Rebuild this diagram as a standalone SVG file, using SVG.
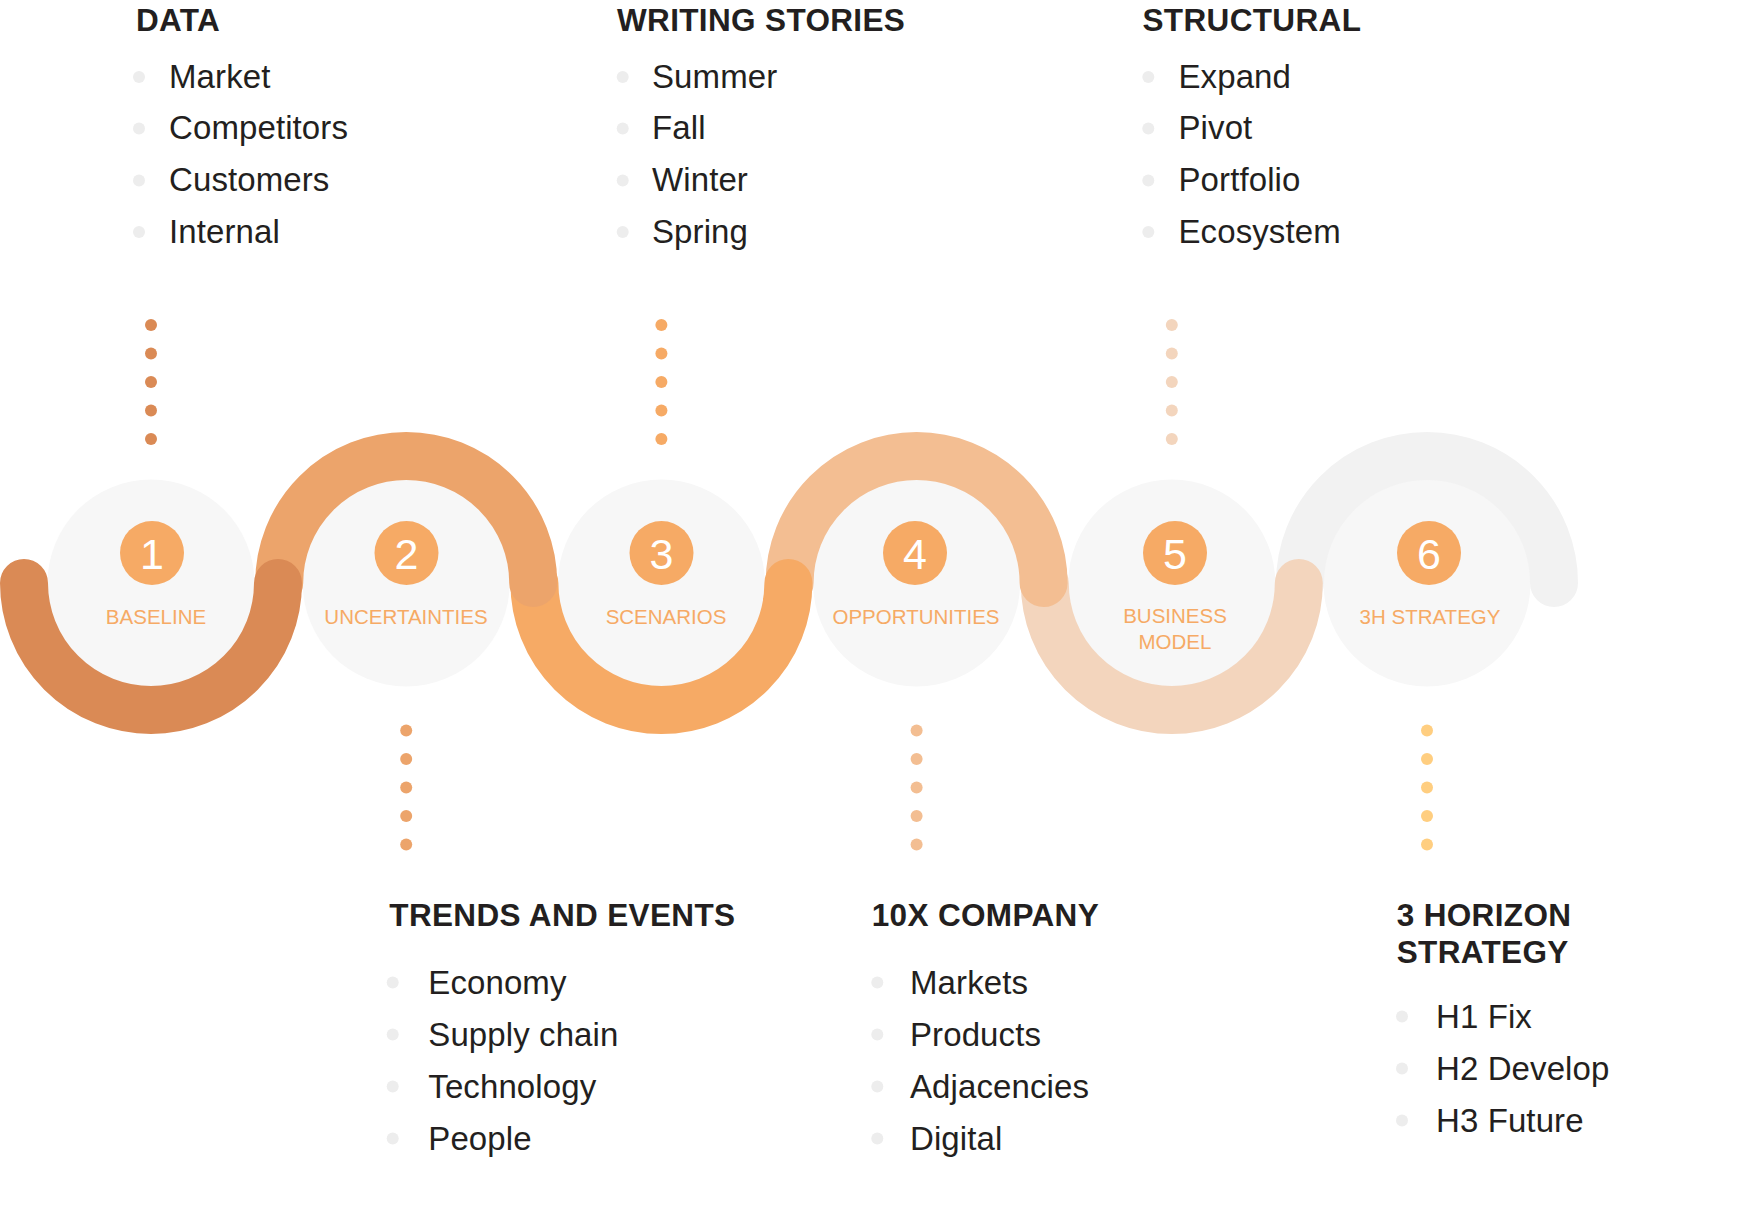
<svg xmlns="http://www.w3.org/2000/svg" width="1756" height="1212" viewBox="0 0 1756 1212">
<style>
.bg{fill:#F7F7F7}
.arc{fill:none;stroke-width:48;stroke-linecap:round}
.badge{fill:#F6AA65}
.num{font-family:"Liberation Sans",Arial,sans-serif;font-size:43px;fill:#FFFFFF;text-anchor:middle}
.lbl{font-family:"Liberation Sans",Arial,sans-serif;font-size:20.5px;fill:#F6AA65;text-anchor:middle}
.hd{font-family:"Liberation Sans",Arial,sans-serif;font-size:31.5px;letter-spacing:0.35px;font-weight:bold;fill:#231F20}
.it{font-family:"Liberation Sans",Arial,sans-serif;font-size:33px;letter-spacing:0.1px;fill:#231F20}
.bul{fill:#EDEDED}
</style>
<rect width="1756" height="1212" fill="#FFFFFF"/>

<!-- background circles -->
<g id="backgrounds">
<circle class="bg" cx="151" cy="583" r="103.5"/>
<circle class="bg" cx="406.2" cy="583" r="103.5"/>
<circle class="bg" cx="661.4" cy="583" r="103.5"/>
<circle class="bg" cx="916.6" cy="583" r="103.5"/>
<circle class="bg" cx="1171.8" cy="583" r="103.5"/>
<circle class="bg" cx="1427" cy="583" r="103.5"/>
</g>

<!-- wave connectors (drawn last-to-first so earlier arcs sit on top) -->
<g id="connectors">
<path class="arc" stroke="#F2F2F2" d="M1300 583 A127 127 0 0 1 1554 583"/>
<path class="arc" stroke="#F3D5BD" d="M1044.8 583 A127 127 0 0 0 1298.8 583"/>
<path class="arc" stroke="#F3BE92" d="M789.6 583 A127 127 0 0 1 1043.6 583"/>
<path class="arc" stroke="#F6AA65" d="M534.4 583 A127 127 0 0 0 788.4 583"/>
<path class="arc" stroke="#ECA46B" d="M279.2 583 A127 127 0 0 1 533.2 583"/>
<path class="arc" stroke="#DA8A55" d="M24 583 A127 127 0 0 0 278 583"/>
<g id="dots-1" fill="#DA8A55">
<circle cx="151" cy="325" r="6"/><circle cx="151" cy="353.5" r="6"/><circle cx="151" cy="382" r="6"/><circle cx="151" cy="410.5" r="6"/><circle cx="151" cy="439" r="6"/>
</g>
<g id="dots-2" fill="#ECA46B">
<circle cx="406.2" cy="730.5" r="6"/><circle cx="406.2" cy="759" r="6"/><circle cx="406.2" cy="787.5" r="6"/><circle cx="406.2" cy="816" r="6"/><circle cx="406.2" cy="844.5" r="6"/>
</g>
<g id="dots-3" fill="#F6AA65">
<circle cx="661.4" cy="325" r="6"/><circle cx="661.4" cy="353.5" r="6"/><circle cx="661.4" cy="382" r="6"/><circle cx="661.4" cy="410.5" r="6"/><circle cx="661.4" cy="439" r="6"/>
</g>
<g id="dots-4" fill="#F3BE92">
<circle cx="916.6" cy="730.5" r="6"/><circle cx="916.6" cy="759" r="6"/><circle cx="916.6" cy="787.5" r="6"/><circle cx="916.6" cy="816" r="6"/><circle cx="916.6" cy="844.5" r="6"/>
</g>
<g id="dots-5" fill="#F3D5BD">
<circle cx="1171.8" cy="325" r="6"/><circle cx="1171.8" cy="353.5" r="6"/><circle cx="1171.8" cy="382" r="6"/><circle cx="1171.8" cy="410.5" r="6"/><circle cx="1171.8" cy="439" r="6"/>
</g>
<g id="dots-6" fill="#FFCE80">
<circle cx="1427" cy="730.5" r="6"/><circle cx="1427" cy="759" r="6"/><circle cx="1427" cy="787.5" r="6"/><circle cx="1427" cy="816" r="6"/><circle cx="1427" cy="844.5" r="6"/>
</g>
</g>

<!-- step nodes -->
<g id="node-1">
<circle class="badge" cx="152" cy="553" r="32"/>
<text class="num" x="152" y="569">1</text>
<text class="lbl" x="156" y="624">BASELINE</text>
</g>
<g id="node-2">
<circle class="badge" cx="406.5" cy="553" r="32"/>
<text class="num" x="406.5" y="569">2</text>
<text class="lbl" x="406" y="624">UNCERTAINTIES</text>
</g>
<g id="node-3">
<circle class="badge" cx="661.5" cy="553" r="32"/>
<text class="num" x="661.5" y="569">3</text>
<text class="lbl" x="666" y="624">SCENARIOS</text>
</g>
<g id="node-4">
<circle class="badge" cx="915" cy="553" r="32"/>
<text class="num" x="915" y="569">4</text>
<text class="lbl" x="916" y="624">OPPORTUNITIES</text>
</g>
<g id="node-5">
<circle class="badge" cx="1175" cy="553" r="32"/>
<text class="num" x="1175" y="569">5</text>
<text class="lbl" x="1175" y="623">BUSINESS</text>
<text class="lbl" x="1175" y="649">MODEL</text>
</g>
<g id="node-6">
<circle class="badge" cx="1429" cy="553" r="32"/>
<text class="num" x="1429" y="569">6</text>
<text class="lbl" x="1430" y="624">3H STRATEGY</text>
</g>

<!-- top text blocks -->
<g id="block-data">
<text class="hd" x="136" y="31">DATA</text>
<circle class="bul" cx="139" cy="77" r="6"/><text class="it" x="169" y="87.5">Market</text>
<circle class="bul" cx="139" cy="128.5" r="6"/><text class="it" x="169" y="139">Competitors</text>
<circle class="bul" cx="139" cy="180.5" r="6"/><text class="it" x="169" y="191">Customers</text>
<circle class="bul" cx="139" cy="232" r="6"/><text class="it" x="169" y="242.5">Internal</text>
</g>
<g id="block-writing">
<text class="hd" x="617" y="31">WRITING STORIES</text>
<circle class="bul" cx="622.7" cy="77" r="6"/><text class="it" x="652" y="87.5">Summer</text>
<circle class="bul" cx="622.7" cy="128.5" r="6"/><text class="it" x="652" y="139">Fall</text>
<circle class="bul" cx="622.7" cy="180.5" r="6"/><text class="it" x="652" y="191">Winter</text>
<circle class="bul" cx="622.7" cy="232" r="6"/><text class="it" x="652" y="242.5">Spring</text>
</g>
<g id="block-structural">
<text class="hd" x="1142.5" y="31">STRUCTURAL</text>
<circle class="bul" cx="1148.3" cy="77" r="6"/><text class="it" x="1178.5" y="87.5">Expand</text>
<circle class="bul" cx="1148.3" cy="128.5" r="6"/><text class="it" x="1178.5" y="139">Pivot</text>
<circle class="bul" cx="1148.3" cy="180.5" r="6"/><text class="it" x="1178.5" y="191">Portfolio</text>
<circle class="bul" cx="1148.3" cy="232" r="6"/><text class="it" x="1178.5" y="242.5">Ecosystem</text>
</g>

<!-- bottom text blocks -->
<g id="block-trends">
<text class="hd" x="389.3" y="926">TRENDS AND EVENTS</text>
<circle class="bul" cx="392.7" cy="982.5" r="6"/><text class="it" x="428.3" y="994">Economy</text>
<circle class="bul" cx="392.7" cy="1034.5" r="6"/><text class="it" x="428.3" y="1046">Supply chain</text>
<circle class="bul" cx="392.7" cy="1086.5" r="6"/><text class="it" x="428.3" y="1098">Technology</text>
<circle class="bul" cx="392.7" cy="1138.5" r="6"/><text class="it" x="428.3" y="1150">People</text>
</g>
<g id="block-10x">
<text class="hd" x="871.7" y="926">10X COMPANY</text>
<circle class="bul" cx="877.3" cy="982.5" r="6"/><text class="it" x="910" y="994">Markets</text>
<circle class="bul" cx="877.3" cy="1034.5" r="6"/><text class="it" x="910" y="1046">Products</text>
<circle class="bul" cx="877.3" cy="1086.5" r="6"/><text class="it" x="910" y="1098">Adjacencies</text>
<circle class="bul" cx="877.3" cy="1138.5" r="6"/><text class="it" x="910" y="1150">Digital</text>
</g>
<g id="block-3h">
<text class="hd" x="1396.7" y="926">3 HORIZON</text>
<text class="hd" x="1396.7" y="963.3">STRATEGY</text>
<circle class="bul" cx="1402" cy="1016.5" r="6"/><text class="it" x="1436" y="1027.5">H1 Fix</text>
<circle class="bul" cx="1402" cy="1068.5" r="6"/><text class="it" x="1436" y="1079.5">H2 Develop</text>
<circle class="bul" cx="1402" cy="1120.5" r="6"/><text class="it" x="1436" y="1131.5">H3 Future</text>
</g>
</svg>
